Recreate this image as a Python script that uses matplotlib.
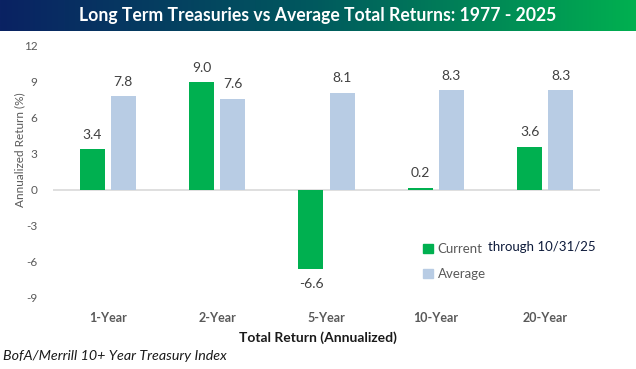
import numpy as np
import matplotlib
matplotlib.use("Agg")
import matplotlib.pyplot as plt
from matplotlib.colors import LinearSegmentedColormap
from matplotlib.patches import Patch

plt.rcParams['font.family'] = ['Lato', 'DejaVu Sans']

categories = ["1-Year", "2-Year", "5-Year", "10-Year", "20-Year"]
current = [3.4, 9.0, -6.6, 0.2, 3.6]
average = [7.8, 7.6, 8.1, 8.3, 8.3]
yticks = [-9, -6, -3, 0, 3, 6, 9, 12]

title = "Long Term Treasuries vs Average Total Returns: 1977 - 2025"
green = "#00B050"
blue = "#B8CCE4"
gray = "#595959"

W, H = 636, 369
fig = plt.figure(figsize=(W / 100, H / 100), dpi=100)

# gradient title bar
bar_h = 31
tax = fig.add_axes([0, 1 - bar_h / H, 1, bar_h / H])
cmap = LinearSegmentedColormap.from_list("hdr", ["#0A2263", "#005A5E", "#00B050"])
tax.imshow(np.linspace(0, 1, 256).reshape(1, -1), aspect="auto", cmap=cmap,
           extent=[0, 1, 0, 1])
tax.set_axis_off()
tax.text(0.5, 0.5, title, color="white", fontsize=12.7, fontweight="bold",
         ha="center", va="center")

ax = fig.add_axes([53 / W, 1 - 298 / H, (600 - 53) / W, (298 - 46) / H])
x = np.arange(len(categories))
bw = 0.228
off = 0.142
ax.bar(x - off, current, bw, color=green)
ax.bar(x + off, average, bw, color=blue)

for xi, v in zip(x - off, current):
    if v >= 0:
        ax.annotate(f"{v:.1f}", (xi, v), xytext=(0, 6), textcoords="offset points",
                    ha="center", va="bottom", fontsize=10, color="#404040")
    else:
        ax.annotate(f"{v:.1f}", (xi, v), xytext=(0, -6), textcoords="offset points",
                    ha="center", va="top", fontsize=10, color="#404040")
for xi, v in zip(x + off, average):
    ax.annotate(f"{v:.1f}", (xi, v), xytext=(0, 6), textcoords="offset points",
                ha="center", va="bottom", fontsize=10, color="#404040")

ax.set_xlim(-0.5, len(categories) - 0.5)
ax.set_ylim(-9, 12)
ax.set_yticks(yticks)
ax.set_yticklabels([str(t) for t in yticks], fontsize=8.5, color=gray)
ax.axhline(0, color="#D9D9D9", lw=1.2, zorder=0)
for s in ax.spines.values():
    s.set_visible(False)
ax.tick_params(axis="y", length=0, pad=11)
ax.tick_params(axis="x", length=0)
ax.set_xticks([])

for xi, c in zip(x, categories):
    ax.text(xi, -10.7, c, ha="center", va="center", fontsize=9,
            fontweight="bold", color=gray)

fig.text(20 / W, 1 - 150 / H, "Annualized Return (%)", rotation=90,
         ha="center", va="center", fontsize=8.5, color=gray)
fig.text(318 / W, 1 - 338 / H, "Total Return (Annualized)", ha="center",
         va="center", fontsize=10, fontweight="bold", color="#1a1a1a")
fig.text(3 / W, 1 - 356 / H, "BofA/Merrill 10+ Year Treasury Index",
         ha="left", va="center", fontsize=10.3, style="italic", color="#1a1a1a")

handles = [Patch(color=green, label="Current"), Patch(color=blue, label="Average")]
ax.legend(handles=handles, loc="upper left",
          bbox_to_anchor=((418 - 53) / (600 - 53), (298 - 238) / (298 - 46)),
          frameon=False, fontsize=9.5, handlelength=0.7, handleheight=0.7,
          handletextpad=0.4, labelspacing=0.95, labelcolor=gray,
          borderaxespad=0)
fig.text(488 / W, 1 - 247 / H, "through 10/31/25", ha="left", va="center",
         fontsize=9.5, color="#0d1a3a")

fig.savefig("out.png", dpi=100)
